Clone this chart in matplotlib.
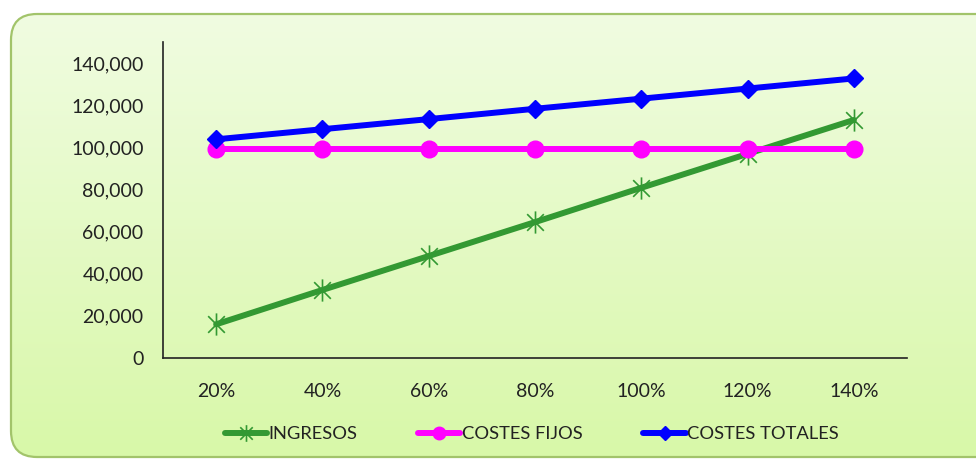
import matplotlib
matplotlib.use("Agg")
import matplotlib.pyplot as plt
import numpy as np
from matplotlib.patches import FancyBboxPatch
from matplotlib.path import Path
from matplotlib.ticker import FuncFormatter
from matplotlib import font_manager

categories = ["20%", "40%", "60%", "80%", "100%", "120%", "140%"]
ingresos = [16000, 32300, 48400, 64500, 80800, 96900, 113000]
costes_fijos = [99200, 99200, 99200, 99200, 99200, 99200, 99200]
costes_totales = [103800, 108600, 113400, 118300, 123100, 127900, 132700]
yticks = [0, 20000, 40000, 60000, 80000, 100000, 120000, 140000]

avail = {f.name for f in font_manager.fontManager.ttflist}
fam = "Lato" if "Lato" in avail else "DejaVu Sans"
plt.rcParams['font.family'] = [fam, 'DejaVu Sans']

W, H = 976, 459
fig = plt.figure(figsize=(W/100, H/100), dpi=100)
fig.patch.set_facecolor("white")

# background frame with gradient
bg = fig.add_axes([0, 0, 1, 1], zorder=-10)
bg.set_xlim(0, W); bg.set_ylim(H, 0); bg.axis("off")
box = FancyBboxPatch((11, 14), 1040, 443, boxstyle="round,pad=0,rounding_size=26",
                     facecolor="none", edgecolor="#a2c46a", linewidth=1.6, zorder=3)
bg.add_patch(box)
grad = np.linspace(0, 1, 256).reshape(-1, 1)
top = np.array([0xf1, 0xfc, 0xe3]) / 255
bot = np.array([0xd8, 0xf8, 0xa8]) / 255
img = top + (bot - top) * grad[..., None]
im = bg.imshow(img, extent=[0, W, H, 0], aspect="auto", zorder=1)
im.set_clip_path(box)

# asterisk marker: vertical line + X
a = 0.75
star = Path([(0, -1), (0, 1), (-a, -a), (a, a), (-a, a), (a, -a)],
            [Path.MOVETO, Path.LINETO, Path.MOVETO, Path.LINETO, Path.MOVETO, Path.LINETO])

ax = fig.add_axes([163/W, 1-358/H, (907-163)/W, (358-42)/H])
ax.patch.set_alpha(0)
x = np.arange(len(categories))

ax.plot(x, ingresos, color="#339933", lw=4.3, marker=star, ms=16, mew=1.2,
        label="INGRESOS", solid_capstyle="round")
ax.plot(x, costes_fijos, color="#ff00ff", lw=4.3, marker="o", ms=12,
        label="COSTES FIJOS", solid_capstyle="round")
ax.plot(x, costes_totales, color="#0000ff", lw=4.3, marker="D", ms=9.5,
        label="COSTES TOTALES", solid_capstyle="round")

ax.set_xlim(-0.5, len(categories) - 0.5)
ax.set_ylim(0, 150000)
ax.set_yticks(yticks)
ax.yaxis.set_major_formatter(FuncFormatter(lambda v, p: f"{int(v):,}"))
ax.set_xticks(x)
ax.set_xticklabels(categories)
for s in ["top", "right"]:
    ax.spines[s].set_visible(False)
for s in ["left", "bottom"]:
    ax.spines[s].set_color("#222222")
    ax.spines[s].set_linewidth(1.2)
ax.tick_params(axis="both", length=0, labelsize=14, colors="#222222")
ax.tick_params(axis="y", pad=14)
ax.tick_params(axis="x", pad=18)

leg = fig.legend(loc="center", bbox_to_anchor=(0.545, 1-434/H), ncol=3, frameon=False,
                 fontsize=13.2, handlelength=2.3, columnspacing=3.3, handletextpad=0.1,
                 labelcolor="#222222", markerscale=0.75)

fig.savefig("out.png", dpi=100)
